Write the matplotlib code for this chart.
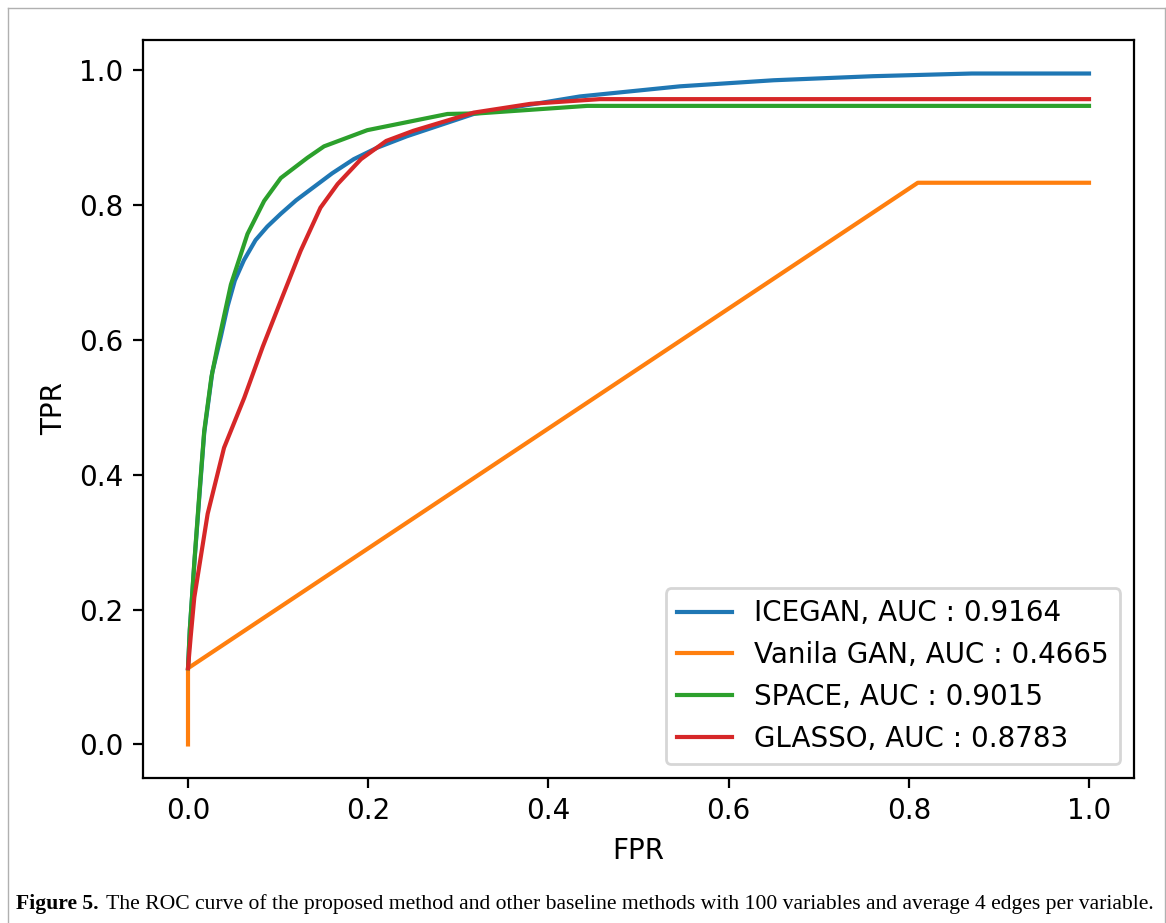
import matplotlib.pyplot as plt
from matplotlib.lines import Line2D

# ROC points
icegan_fpr = [0.0, 0.002, 0.007, 0.0125, 0.018, 0.027, 0.0365, 0.044, 0.052, 0.062,
              0.075, 0.088, 0.103, 0.12, 0.14, 0.16, 0.184, 0.21, 0.243, 0.317,
              0.435, 0.546, 0.65, 0.76, 0.87, 1.0]
icegan_tpr = [0.113, 0.17, 0.268, 0.366, 0.462, 0.552, 0.605, 0.65, 0.688, 0.718,
              0.748, 0.768, 0.787, 0.807, 0.827, 0.847, 0.868, 0.885, 0.902, 0.935,
              0.961, 0.976, 0.985, 0.991, 0.995, 0.995]

vanila_fpr = [0.0, 0.0, 0.81, 1.0]
vanila_tpr = [0.0, 0.113, 0.833, 0.833]

space_fpr = [0.0, 0.002, 0.007, 0.0125, 0.018, 0.026, 0.033, 0.0476, 0.066, 0.0845,
             0.103, 0.1325, 0.151, 0.199, 0.288, 0.324, 0.443, 1.0]
space_tpr = [0.113, 0.17, 0.27, 0.37, 0.465, 0.545, 0.592, 0.682, 0.757, 0.806,
             0.840, 0.870, 0.887, 0.911, 0.935, 0.936, 0.947, 0.947]

glasso_fpr = [0.0, 0.003, 0.007, 0.0218, 0.040, 0.0624, 0.083, 0.103, 0.125, 0.147,
              0.166, 0.192, 0.22, 0.25, 0.317, 0.38, 0.457, 1.0]
glasso_tpr = [0.113, 0.16, 0.218, 0.342, 0.44, 0.514, 0.59, 0.658, 0.732, 0.796,
              0.831, 0.868, 0.895, 0.910, 0.937, 0.950, 0.957, 0.957]

labels = ['ICEGAN, AUC : 0.9164', 'Vanila GAN, AUC : 0.4665',
          'SPACE, AUC : 0.9015', 'GLASSO, AUC : 0.8783']

fig = plt.figure(figsize=(5.83, 4.615), dpi=200)
ax = fig.add_axes([0.1226, 0.1571, 0.85, 0.7996])

ax.plot(icegan_fpr, icegan_tpr, label=labels[0])
ax.plot(vanila_fpr, vanila_tpr, label=labels[1])
ax.plot(space_fpr, space_tpr, label=labels[2])
ax.plot(glasso_fpr, glasso_tpr, label=labels[3])

ax.set_xlabel('FPR')
ax.set_ylabel('TPR')
ax.legend(loc='lower right')

# page frame around the figure
for xs, ys in [([8/1166, 8/1166], [0, 1 - 8/923]),
               ([8/1166, 1165/1166], [1 - 8/923, 1 - 8/923]),
               ([1165/1166, 1165/1166], [0, 1 - 8/923])]:
    fig.add_artist(Line2D(xs, ys, transform=fig.transFigure,
                          color='#b0b0b0', linewidth=0.5))

# caption
cap = fig.text(16/1166, 19/923, 'Figure 5.', fontsize=7.8, weight='bold',
               family='Liberation Serif', va='center')
ax.annotate('The ROC curve of the proposed method and other baseline methods with '
            '100 variables and average 4 edges per variable.',
            xy=(1, 0.5), xycoords=cap, xytext=(2.5, 0), textcoords='offset points',
            fontsize=7.8, family='Liberation Serif', va='center', ha='left')

fig.savefig('out.png', dpi=200)
